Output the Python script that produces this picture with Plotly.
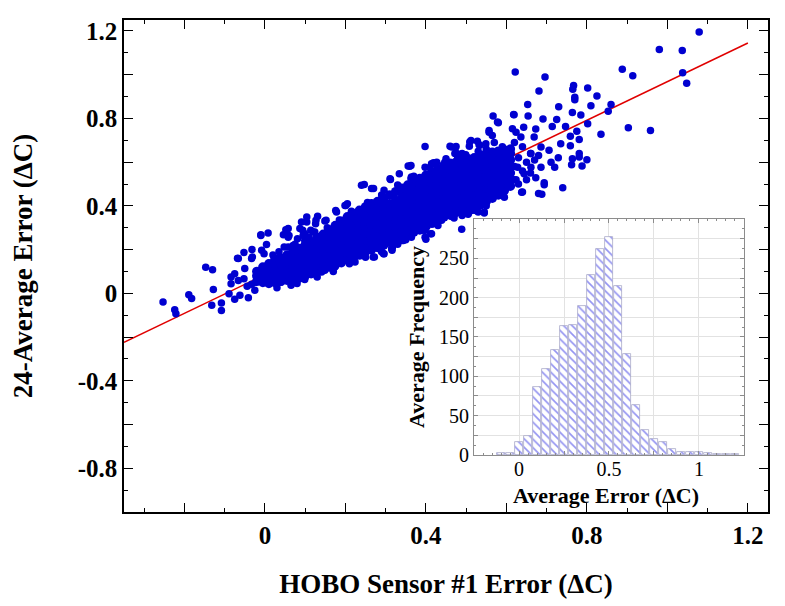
import plotly.graph_objects as go

# ---- dense core of the scatter cloud, column by column (HOBO error -> 24-average error)
core_cols_x = [-0.02, -0.005, 0.01, 0.025, 0.04, 0.055, 0.07, 0.085, 0.10, 0.115, 0.13, 0.145, 0.16, 0.175,
               0.19, 0.205, 0.22, 0.235, 0.25, 0.265, 0.28, 0.295, 0.31, 0.325, 0.34, 0.355, 0.37, 0.385,
               0.40, 0.415, 0.43, 0.445, 0.46, 0.475, 0.49, 0.505, 0.52, 0.535, 0.55, 0.565, 0.58, 0.595, 0.61]
core_cols_y = [
    [0.055, 0.08, 0.10],
    [0.05, 0.075, 0.10, 0.12],
    [0.045, 0.07, 0.095, 0.12, 0.135],
    [0.05, 0.08, 0.105, 0.13, 0.15],
    [0.055, 0.085, 0.11, 0.135, 0.16],
    [0.06, 0.09, 0.12, 0.145, 0.175],
    [0.065, 0.095, 0.12, 0.15, 0.175, 0.19],
    [0.07, 0.10, 0.13, 0.155, 0.185, 0.205],
    [0.08, 0.11, 0.135, 0.165, 0.19, 0.22],
    [0.09, 0.12, 0.145, 0.175, 0.205, 0.235],
    [0.10, 0.13, 0.155, 0.185, 0.21, 0.235, 0.255],
    [0.11, 0.14, 0.17, 0.195, 0.225, 0.25, 0.27],
    [0.12, 0.15, 0.18, 0.205, 0.235, 0.26, 0.29],
    [0.13, 0.16, 0.19, 0.22, 0.245, 0.275, 0.30, 0.31],
    [0.14, 0.17, 0.20, 0.23, 0.26, 0.285, 0.31, 0.33],
    [0.155, 0.185, 0.21, 0.24, 0.27, 0.295, 0.325, 0.35],
    [0.165, 0.195, 0.225, 0.25, 0.28, 0.31, 0.335, 0.365],
    [0.175, 0.205, 0.235, 0.265, 0.29, 0.32, 0.35, 0.38],
    [0.19, 0.22, 0.245, 0.275, 0.305, 0.33, 0.36, 0.395],
    [0.20, 0.23, 0.26, 0.29, 0.315, 0.345, 0.375, 0.41],
    [0.21, 0.24, 0.27, 0.30, 0.33, 0.355, 0.385, 0.42],
    [0.22, 0.25, 0.28, 0.31, 0.34, 0.37, 0.40, 0.435],
    [0.235, 0.265, 0.295, 0.325, 0.355, 0.38, 0.41, 0.45],
    [0.245, 0.275, 0.305, 0.335, 0.365, 0.395, 0.425, 0.465],
    [0.255, 0.285, 0.315, 0.345, 0.375, 0.405, 0.435, 0.465, 0.48],
    [0.265, 0.295, 0.325, 0.355, 0.385, 0.415, 0.445, 0.475, 0.495],
    [0.28, 0.31, 0.34, 0.37, 0.40, 0.43, 0.46, 0.49, 0.51],
    [0.29, 0.32, 0.35, 0.38, 0.41, 0.44, 0.47, 0.50, 0.525],
    [0.305, 0.335, 0.365, 0.395, 0.425, 0.455, 0.485, 0.515, 0.54],
    [0.32, 0.35, 0.38, 0.41, 0.44, 0.47, 0.50, 0.53, 0.555],
    [0.335, 0.365, 0.395, 0.425, 0.455, 0.485, 0.515, 0.545, 0.57],
    [0.35, 0.38, 0.41, 0.44, 0.47, 0.50, 0.53, 0.56, 0.585],
    [0.36, 0.39, 0.42, 0.45, 0.48, 0.51, 0.54, 0.57, 0.595],
    [0.37, 0.40, 0.43, 0.46, 0.49, 0.52, 0.55, 0.575, 0.60],
    [0.38, 0.41, 0.44, 0.47, 0.50, 0.53, 0.56, 0.59, 0.61],
    [0.39, 0.42, 0.45, 0.48, 0.51, 0.54, 0.57, 0.595, 0.615],
    [0.395, 0.425, 0.455, 0.485, 0.515, 0.545, 0.575, 0.60, 0.62],
    [0.405, 0.435, 0.465, 0.495, 0.525, 0.555, 0.585, 0.61, 0.63],
    [0.42, 0.45, 0.48, 0.51, 0.54, 0.57, 0.60, 0.625, 0.64],
    [0.435, 0.465, 0.495, 0.525, 0.555, 0.585, 0.615, 0.645],
    [0.45, 0.48, 0.51, 0.54, 0.57, 0.60, 0.625, 0.65],
    [0.47, 0.50, 0.53, 0.56, 0.59, 0.62, 0.655],
    [0.49, 0.52, 0.55, 0.58, 0.61, 0.64, 0.66],
]

# ---- scattered points around the core
spread_x = [
    -0.253, -0.224, -0.221, -0.189, -0.182, -0.147, -0.130, -0.128, -0.132, -0.108, -0.108, -0.089,
    -0.084, -0.075, -0.062, -0.066, -0.052, -0.032, -0.033, -0.010, 0.008, -0.008, -0.002, 0.004,
    0.029, 0.046, 0.058, 0.058, 0.058, 0.070, 0.087, 0.091, 0.104, 0.099, 0.099, 0.120, 0.131, 0.149,
    0.099, 0.065, 0.040, -0.041, -0.044, -0.033, -0.025, -0.021, -0.052, -0.075, -0.050, -0.066,
    0.178, 0.199, 0.174, 0.199, 0.149, 0.120, 0.240, -0.084, -0.068, -0.031, 0.023, 0.052, 0.060,
    0.048, 0.065, 0.081, 0.094, 0.102, 0.139, 0.152, 0.127, 0.114, 0.176, 0.205, 0.272, 0.296,
    0.265, 0.312, 0.356, 0.364, 0.398, 0.414, 0.464, 0.472, 0.497, 0.534, 0.427, 0.447, 0.126, 0.104,
    0.054, 0.095, -0.010, 0.124, 0.141, 0.224, 0.315, 0.344, 0.364, 0.398, 0.414, 0.514, 0.530,
    0.066, 0.224, 0.141, 0.439, 0.618, 0.565, 0.398, 0.460, 0.473, 0.509, 0.528, 0.508, 0.360,
    0.419, 0.247, 0.311, 0.334, 0.270, 0.363, 0.477, 0.499, 0.176, 0.201, 0.296, 0.489, 0.541,
    0.462, 0.508, 0.524, 0.545, 0.624, 0.640, 0.588, 0.412, 0.398, 0.340, 0.316, 0.316, 0.295,
    0.269, 0.392, 0.371, 0.578, 0.557, 0.624, 0.512, 0.532, 0.475, 0.479, 0.363, 0.421, 0.396,
    0.400, 0.317, 0.490, 0.505,
    1.079, 0.980, 1.037, 1.038, 1.048, 0.888, 0.914, 0.622, 0.696, 0.681, 0.767, 0.765, 0.802,
    0.770, 0.770, 0.825, 0.653, 0.730, 0.810, 0.860, 0.853, 0.764, 0.567, 0.619, 0.654, 0.580,
    0.691, 0.725, 0.785, 0.802, 0.903, 0.958, 0.835, 0.643, 0.673, 0.714, 0.747, 0.775, 0.557,
    0.615, 0.759, 0.781, 0.735, 0.759, 0.549, 0.706, 0.729, 0.764, 0.781, 0.781, 0.800, 0.711,
    0.762, 0.788, 0.720, 0.686, 0.673, 0.694, 0.694, 0.740, 0.619, 0.638, 0.680, 0.688, 0.595,
    0.545, 0.586, 0.644, 0.661, 0.628, 0.661, 0.686, 0.669, 0.636,
    0.54, 0.56, 0.58, 0.60, 0.62, 0.63, 0.64, 0.61, 0.57, 0.59, 0.65, 0.66, 0.67, 0.55, 0.62,
    0.68, 0.64, 0.66, 0.60, 0.63, 0.65, 0.57, 0.53,
    0.02, 0.035, 0.075, 0.11, 0.155, 0.185, 0.215, 0.255, 0.29, 0.33, 0.37, 0.41, 0.45, 0.49,
    0.03, 0.08, 0.13, 0.17, 0.21, 0.25, 0.29, 0.33, 0.35, 0.43, 0.47, 0.505, 0.55,
]
spread_y = [
    -0.040, -0.075, -0.093, -0.006, -0.024, 0.119, 0.108, 0.018, -0.055, -0.044, -0.078, -0.002,
    0.075, -0.027, -0.009, 0.159, 0.187, 0.201, 0.159, 0.268, 0.276, 0.197, 0.181, 0.223,
    0.161, 0.268, 0.296, 0.257, 0.212, 0.219, 0.296, 0.326, 0.349, 0.273, 0.242, 0.280, 0.352, 0.331,
    0.063, 0.037, 0.052, -0.020, 0.032, 0.041, 0.014, 0.075, 0.067, 0.090, 0.113, 0.059,
    0.372, 0.402, 0.120, 0.151, 0.105, 0.090, 0.494, 0.044, 0.161, 0.166, 0.159, 0.291, 0.265,
    0.212, 0.166, 0.250, 0.288, 0.261, 0.219, 0.334, 0.334, 0.288, 0.288, 0.410, 0.166, 0.181,
    0.479, 0.521, 0.582, 0.532, 0.577, 0.593, 0.669, 0.639, 0.631, 0.677, 0.600, 0.600, 0.318, 0.326,
    0.280, 0.265, 0.265, 0.280, 0.257, 0.341, 0.204, 0.242, 0.257, 0.288, 0.273, 0.379, 0.372,
    0.044, 0.143, 0.097, 0.334, 0.818, 0.722, 0.672, 0.673, 0.666, 0.692, 0.696, 0.673, 0.581,
    0.597, 0.498, 0.524, 0.547, 0.479, 0.524, 0.639, 0.634, 0.379, 0.402, 0.471, 0.293, 0.311,
    0.352, 0.384, 0.379, 0.372, 0.520, 0.463, 0.494, 0.273, 0.257, 0.242, 0.212, 0.197, 0.181,
    0.166, 0.311, 0.293, 0.783, 0.737, 0.737, 0.699, 0.680, 0.672, 0.623, 0.585, 0.593, 0.288,
    0.247, 0.212, 0.356, 0.362,
    1.195, 1.115, 1.111, 1.009, 0.961, 1.025, 0.995, 1.012, 0.989, 0.925, 0.951, 0.933, 0.939,
    0.897, 0.885, 0.902, 0.864, 0.853, 0.858, 0.864, 0.833, 0.827, 0.811, 0.817, 0.811, 0.780,
    0.797, 0.795, 0.815, 0.776, 0.757, 0.745, 0.727, 0.760, 0.751, 0.763, 0.763, 0.741, 0.745,
    0.753, 0.718, 0.704, 0.684, 0.675, 0.684, 0.654, 0.620, 0.616, 0.639, 0.623, 0.611, 0.600,
    0.588, 0.582, 0.577, 0.577, 0.529, 0.506, 0.497, 0.483, 0.520, 0.462, 0.456, 0.453, 0.439,
    0.367, 0.491, 0.547, 0.577, 0.577, 0.639, 0.669, 0.715, 0.715,
    0.60, 0.62, 0.64, 0.60, 0.58, 0.62, 0.56, 0.66, 0.57, 0.67, 0.60, 0.64, 0.61, 0.66, 0.69,
    0.63, 0.67, 0.55, 0.54, 0.50, 0.52, 0.69, 0.65,
    0.175, 0.19, 0.225, 0.255, 0.30, 0.335, 0.375, 0.415, 0.45, 0.495, 0.535, 0.575, 0.615, 0.64,
    0.025, 0.045, 0.075, 0.10, 0.135, 0.165, 0.19, 0.225, 0.245, 0.31, 0.345, 0.365, 0.40,
]

# ---- least-squares line end points
fit_x = [-0.35, 1.2]
fit_y = [-0.224, 1.145]

# ---- inset histogram of the average error
hist_centers = [-0.10, -0.05, 0.0, 0.05, 0.10, 0.15, 0.20, 0.25, 0.30, 0.35, 0.40, 0.45, 0.50, 0.55,
                0.60, 0.65, 0.70, 0.75, 0.80, 0.85, 0.90, 0.95, 1.00, 1.05, 1.10, 1.15, 1.20]
hist_counts = [3, 3, 16, 24, 86, 109, 134, 164, 165, 189, 229, 262, 277, 215,
               128, 64, 32, 20, 17, 7, 4, 4, 4, 2, 1, 1, 1]

main_xticks = [-0.2, 0.0, 0.2, 0.4, 0.6, 0.8, 1.0, 1.2]
main_xlabels = ["", "0", "", "0.4", "", "0.8", "", "1.2"]
main_yticks = [-1.0, -0.8, -0.6, -0.4, -0.2, 0.0, 0.2, 0.4, 0.6, 0.8, 1.0, 1.2]
main_ylabels = ["", "-0.8", "", "-0.4", "", "0", "", "0.4", "", "0.8", "", "1.2"]
inset_xticks = [-0.25, 0.0, 0.25, 0.5, 0.75, 1.0, 1.25]
inset_xlabels = ["", "0", "", "0.5", "", "1", ""]
inset_yticks = [0, 25, 50, 75, 100, 125, 150, 175, 200, 225, 250, 275, 300]
inset_ylabels = ["0", "", "50", "", "100", "", "150", "", "200", "", "250", "", ""]

FONT = "Liberation Serif, Times New Roman, serif"
BLUE = "#0000D0"

core_x = []
core_y = []
for cx, col in zip(core_cols_x, core_cols_y):
    core_x += [cx] * len(col)
    core_y += col

fig = go.Figure()

# fit line goes first so the cloud sits on top of it, as in the original
fig.add_trace(go.Scatter(x=fit_x, y=fit_y, mode="lines", line=dict(color="#E00000", width=1.5),
                         xaxis="x", yaxis="y", showlegend=False))
# solid centre of the cloud (bigger dots so it reads as one blue mass)
fig.add_trace(go.Scatter(x=core_x, y=core_y, mode="markers",
                         marker=dict(color=BLUE, size=9.5, line=dict(width=0)),
                         xaxis="x", yaxis="y", showlegend=False))
fig.add_trace(go.Scatter(x=spread_x, y=spread_y, mode="markers",
                         marker=dict(color=BLUE, size=7.5, line=dict(width=0)),
                         xaxis="x", yaxis="y", showlegend=False))
fig.add_trace(go.Bar(x=hist_centers, y=hist_counts, width=0.042,
                     marker=dict(color="white", line=dict(color="#A8A8C8", width=0.8),
                                 pattern=dict(shape="\\", fgcolor="#2A2AE4", bgcolor="white",
                                              size=6, solidity=0.28)),
                     xaxis="x2", yaxis="y2", showlegend=False))

main_axis = dict(showline=True, linecolor="black", linewidth=1.5, mirror="ticks",
                 ticks="inside", ticklen=9, tickwidth=1.2, tickcolor="black",
                 showgrid=False, zeroline=False, automargin=False,
                 tickfont=dict(family=FONT, size=25, color="black", weight="bold"))
inset_axis = dict(showline=True, linecolor="#8C8C8C", linewidth=1, mirror="ticks",
                  ticks="inside", ticklen=4, tickwidth=1, tickcolor="#8C8C8C",
                  showgrid=True, gridcolor="#E2E2E2", gridwidth=1, zeroline=False, automargin=False,
                  tickfont=dict(family=FONT, size=20, color="black"))

# the page body adds an 8px offset, so the margins are trimmed on the left/top
fig.update_layout(
    width=785, height=606,
    margin=dict(l=116, r=25, t=12, b=102),
    paper_bgcolor="white", plot_bgcolor="white",
    bargap=0,
    xaxis=dict(main_axis, domain=[0, 1], range=[-0.35, 1.25], tickmode="array",
               tickvals=main_xticks, ticktext=main_xlabels,
               minor=dict(dtick=0.1, tick0=0, ticks="inside", ticklen=4, tickcolor="black"),
               title=dict(text="HOBO Sensor #1 Error (\u0394C)", standoff=26,
                          font=dict(family=FONT, size=27, color="black", weight="bold"))),
    yaxis=dict(main_axis, domain=[0, 1], range=[-1.0, 1.25], tickmode="array",
               tickvals=main_yticks, ticktext=main_ylabels,
               minor=dict(dtick=0.1, tick0=0, ticks="inside", ticklen=4, tickcolor="black"),
               title=dict(text="24-Average Error (\u0394C)", standoff=41,
                          font=dict(family=FONT, size=27, color="black", weight="bold"))),
    xaxis2=dict(inset_axis, domain=[0.5435, 0.9627], anchor="y2", range=[-0.25, 1.25],
                tickmode="array", tickvals=inset_xticks, ticktext=inset_xlabels,
                ticklabelstandoff=-4,
                minor=dict(dtick=0.05, tick0=0, ticks="inside", ticklen=2, tickcolor="#8C8C8C")),
    yaxis2=dict(inset_axis, domain=[0.1159, 0.5955], anchor="x2", range=[0, 300],
                tickmode="array", tickvals=inset_yticks, ticktext=inset_ylabels,
                minor=dict(dtick=12.5, tick0=0, ticks="inside", ticklen=2, tickcolor="#8C8C8C"),
                title=dict(text="Average Frequency", standoff=8,
                           font=dict(family=FONT, size=22, color="black", weight="bold"))),
    annotations=[dict(text="Average Error (\u0394C)", xref="paper", yref="paper",
                      x=0.7484, y=0.034, xanchor="center", yanchor="middle", showarrow=False,
                      font=dict(family=FONT, size=22, color="black", weight="bold"))],
)

fig.write_html("out.html")
